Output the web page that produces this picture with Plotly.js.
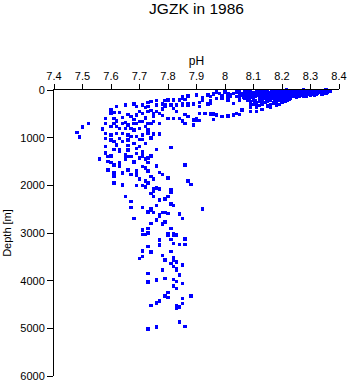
<!DOCTYPE html>
<html>
<head>
<meta charset="utf-8">
<script src="https://cdn.plot.ly/plotly-3.0.1.min.js"></script>
<style>html,body{margin:0;padding:0;background:#fff;}#chart{width:350px;height:384px;}.point{shape-rendering:crispEdges;}</style>
</head>
<body>
<div id="chart"></div>
<script>
// Samples: [pH, depth in m]
var surfaceSamples = [
[8.12,8],[8.15,12],[8.18,6],[8.20,10],[8.22,14],[8.24,5],[8.26,9],[8.28,12],[8.30,7],[8.32,11],[8.34,6],[8.36,10],[8.37,15],
[8.08,25],[8.11,22],[8.14,28],[8.17,24],[8.19,30],[8.21,21],[8.23,26],[8.25,29],[8.27,23],[8.29,27],[8.31,22],[8.33,28],[8.35,24],[8.37,30],
[8.05,42],[8.09,38],[8.12,44],[8.15,40],[8.18,36],[8.20,45],[8.23,41],[8.25,37],[8.28,43],[8.30,39],[8.32,46],[8.34,40],[8.36,44],
[8.04,58],[8.07,54],[8.10,60],[8.13,55],[8.16,52],[8.19,59],[8.22,56],[8.24,61],[8.26,53],[8.29,57],[8.31,62],[8.33,55],[8.35,58],
[8.06,72],[8.08,68],[8.11,75],[8.14,70],[8.17,66],[8.20,73],[8.22,77],[8.25,69],[8.27,74],[8.30,71],[8.32,67],
[8.05,88],[8.09,84],[8.12,90],[8.15,86],[8.18,82],[8.21,89],[8.23,85],[8.26,91],[8.28,83],[8.31,87],[8.34,80],
[8.06,102],[8.10,98],[8.13,105],[8.16,100],[8.19,96],[8.22,104],[8.24,99],[8.27,103],[8.29,97],[8.32,95],
[8.07,118],[8.11,113],[8.14,120],[8.17,115],[8.20,111],[8.23,119],[8.25,114],[8.28,117],[8.30,110],
[8.05,133],[8.08,128],[8.12,136],[8.15,131],[8.18,127],[8.21,134],[8.24,130],[8.26,126],
[8.09,152],[8.13,148],[8.16,155],[8.19,150],[8.22,146],[8.25,153],
[8.07,172],[8.10,168],[8.14,175],[8.17,170],[8.20,166],[8.23,173],
[8.08,192],[8.12,188],[8.15,195],[8.18,190],[8.21,186],
[8.10,215],[8.13,212],[8.16,218],[8.19,214],[8.22,210],
[8.09,240],[8.12,236],[8.15,243],[8.18,238],[8.21,245],
[8.11,270],[8.14,266],[8.17,273],[8.20,268],
[8.10,300],[8.13,296],[8.16,303],[8.19,310],
[8.12,330],[8.15,335],[8.18,328],
[8.11,362],[8.16,358],[8.13,405],[8.09,455],[8.11,450],[8.09,365],
[8.135,18],[8.165,16],[8.195,19],[8.215,3],[8.245,17],[8.275,2],[8.305,18],[8.335,17],[8.355,4],[8.365,35],
[8.095,48],[8.125,33],[8.155,63],[8.185,47],[8.215,33],[8.245,50],[8.275,35],[8.305,52],[8.335,34],[8.345,66],
[8.085,78],[8.115,93],[8.145,80],[8.175,94],[8.205,81],[8.235,95],[8.265,79],[8.295,92],[8.325,76],[8.355,72],
[8.075,108],[8.105,123],[8.135,110],[8.165,125],[8.195,108],[8.225,122],[8.255,107],[8.285,124],[8.315,104],
[8.065,145],[8.095,140],[8.145,160],[8.175,142],[8.205,158],[8.235,140],[8.275,138],
[8.085,180],[8.125,200],[8.165,182],[8.195,198],[8.225,190],[8.105,228],[8.145,230],[8.175,255],[8.205,228]
];
var transitionSamples = [
[7.85,140],[7.87,125],[7.90,105],[7.86,195],[7.85,315],[7.87,295],[7.89,295],[7.91,265],[7.92,225],[7.94,295],
[7.95,280],[7.95,225],[7.94,105],[7.96,85],[7.98,70],[7.97,175],[7.99,175],[8.01,70],[8.02,125],[8.03,70],
[8.04,140],[8.05,70],[8.07,35],[8.01,210],[8.03,280],[8.05,210],[8.08,210],[8.09,295],[8.11,350],[8.13,405],
[8.06,420],[8.09,455],[8.11,455],[8.04,490],[8.05,510],[8.01,545],[8.03,525],[7.99,560],[7.96,615],[7.93,490],
[7.95,505],[7.96,505],[7.97,525],[7.91,490],[7.89,630],[7.90,645],[7.91,645],[7.87,560],[7.86,700],[7.89,735],
[7.85,665],[8.00,40],[8.02,95],[8.04,25],[7.99,110],[8.01,150],[7.95,140],[7.97,40],[7.92,160]
];
var upperSamples = [
[7.90,120],[7.87,140],[7.85,175],[7.84,210],[7.82,210],[7.85,295],[7.80,210],[7.79,225],[7.79,315],[7.78,295],
[7.76,225],[7.76,315],[7.74,245],[7.73,265],[7.73,350],[7.72,365],[7.71,315],[7.69,350],[7.68,295],[7.65,315],
[7.62,350],[7.60,420],[7.60,490],[7.61,470],[7.58,595],[7.61,595],[7.63,470],[7.66,510],[7.67,560],[7.69,525],
[7.70,455],[7.71,490],[7.73,455],[7.74,435],[7.75,490],[7.76,455],[7.77,490],[7.78,385],[7.79,350],[7.81,315],
[7.82,385],[7.83,315],[7.87,315],[7.89,295],[7.91,350],[7.80,595],[7.82,595],[7.84,595],[7.85,645],[7.89,630],
[7.90,595],[7.89,735],[7.52,700],[7.50,780],[7.48,890],[7.49,990],[7.58,700],[7.61,700],[7.62,770],[7.64,700],
[7.65,685],[7.66,735],[7.68,700],[7.69,700],[7.70,665],[7.71,665],[7.73,700],[7.74,700],[7.75,665],[7.77,700],
[7.63,805],[7.65,805],[7.67,805],[7.68,840],[7.70,805],[7.72,770],[7.73,840],[7.75,920],[7.77,920],[7.58,910],
[7.60,945],[7.62,910],[7.64,910],[7.66,945],[7.67,980],[7.69,980],[7.71,945],[7.73,910],[7.70,1035],[7.72,1120],
[7.71,1035],[7.58,1015],[7.60,1050],[7.61,1085],[7.63,1015],[7.64,1085],[7.66,1050],[7.68,1120],[7.58,1185],[7.61,1245],
[7.63,1245],[7.66,1260],[7.69,1225],[7.71,1295],[7.76,1245],[7.81,1200],[7.56,1445],[7.59,1500],[7.60,1385],[7.63,1535],
[7.68,1500],[7.70,1430],[7.71,1365],[7.73,1430],[7.74,1400],[7.63,1295],[7.65,1365],[7.67,1400],[7.69,1330],[7.76,1595],
[7.86,1580],[7.64,580],[7.72,590],[7.75,560],[7.78,540],[7.68,620],[7.62,650],[7.57,820],[7.60,760],[7.74,1010],
[7.62,1150],[7.66,1160],[7.70,1190],[7.58,1320],[7.78,400],[7.83,450],[7.86,520]
];
var midSamples = [
[7.56,1455],[7.59,1400],[7.60,1515],[7.59,1675],[7.61,1570],[7.63,1535],[7.63,1610],[7.65,1445],[7.66,1400],[7.68,1515],
[7.70,1430],[7.71,1400],[7.72,1445],[7.73,1515],[7.74,1375],[7.61,1745],[7.61,1815],[7.64,1745],[7.66,1675],[7.67,1770],
[7.69,1700],[7.69,1780],[7.71,1610],[7.72,1640],[7.73,1700],[7.74,1815],[7.75,1865],[7.76,1610],[7.77,1725],[7.78,1770],
[7.80,1850],[7.70,1870],[7.72,1910],[7.73,1955],[7.69,2005],[7.71,2005],[7.72,2035],[7.64,1990],[7.61,1955],[7.75,2080],
[7.76,2060],[7.77,2080],[7.75,2130],[7.74,2170],[7.81,2095],[7.81,2145],[7.86,1570],[7.87,1910],[7.88,1980],[7.65,2230],
[7.67,2340],[7.67,2460],[7.71,2460],[7.75,2235],[7.77,2305],[7.79,2285],[7.80,2230],[7.81,2400],[7.82,2425],[7.76,2425]
];
var deepSamples = [
[7.67,2334],[7.71,2460],[7.76,2418],[7.77,2320],[7.81,2376],[7.82,2418],[7.92,2500],[7.68,2690],[7.73,2550],[7.74,2500],
[7.75,2565],[7.77,2620],[7.78,2565],[7.80,2585],[7.84,2600],[7.85,2690],[7.76,2725],[7.74,2795],[7.78,2810],[7.79,2775],
[7.73,2900],[7.73,2985],[7.71,2935],[7.71,3035],[7.72,3035],[7.81,2900],[7.80,3040],[7.82,3040],[7.83,3040],[7.81,3130],
[7.86,3125],[7.77,3150],[7.77,3255],[7.82,3220],[7.84,3235],[7.86,3235],[7.73,3285],[7.71,3380],[7.74,3400],[7.71,3495],
[7.70,3530],[7.78,3475],[7.81,3390],[7.82,3515],[7.82,3565],[7.79,3570],[7.83,3610],[7.81,3635],[7.82,3705],[7.83,3740],
[7.85,3675],[7.83,3790],[7.78,3775],[7.73,3855],[7.76,3985],[7.79,3960],[7.82,3970],[7.83,4015],[7.84,3885],[7.85,4065],
[7.82,4110],[7.83,4160],[7.73,4025],[7.80,4250],[7.79,4320],[7.80,4355],[7.85,4370],[7.88,4325],[7.77,4425],[7.76,4470],
[7.74,4520],[7.83,4530],[7.84,4555],[7.83,4590],[7.85,4485],[7.84,4870],[7.86,4960],[7.76,4975],[7.73,5015],
[7.74,2520],[7.75,2565],[7.73,2565],[7.78,2565],[7.79,2565],[7.80,2590],[7.77,2660],[7.76,2730],[7.79,2760],[7.78,2810],
[7.84,2590],[7.85,2690],[7.68,2690],[7.74,2795],[7.71,2935],[7.73,2900],[7.73,3005],[7.81,2900],[7.80,3025],[7.82,3025]
];

var xTicks = [7.4, 7.5, 7.6, 7.7, 7.8, 7.9, 8.0, 8.1, 8.2, 8.3, 8.4];
var xTickText = ['7.4','7.5','7.6','7.7','7.8','7.9','8','8.1','8.2','8.3','8.4'];
var yTicks = [0, 1000, 2000, 3000, 4000, 5000, 6000];
var yTickText = ['0','1000','2000','3000','4000','5000','6000'];

var all = surfaceSamples.concat(transitionSamples, upperSamples, midSamples, deepSamples);
var xs = all.map(function(p){return p[0];});
var ys = all.map(function(p){return p[1];});

var FONT = 'Liberation Sans, Arial, sans-serif';
var trace = {
  type: 'scatter', mode: 'markers', x: xs, y: ys,
  marker: {symbol: 'square', size: 3.4, color: '#0000ff', line: {width: 0}},
  hoverinfo: 'none', cliponaxis: false
};
var layout = {
  width: 350, height: 384,
  margin: {l: 54, r: 11, t: 90, b: 8, pad: 0},
  paper_bgcolor: '#fff', plot_bgcolor: '#fff',
  showlegend: false,
  font: {family: FONT, color: '#000', size: 11},
  title: {text: 'JGZK in 1986', x: 0.5, xref: 'paper', y: 0.977, yref: 'container', yanchor: 'middle', font: {family: FONT, size: 15.5, color: '#000'}},
  xaxis: {
    side: 'top', range: [7.4, 8.4], tickvals: xTicks, ticktext: xTickText,
    ticks: 'outside', ticklen: 5, tickwidth: 1, tickcolor: '#000',
    showline: true, linecolor: '#000', linewidth: 1, showgrid: false, zeroline: false,
    tickfont: {family: FONT, size: 11, color: '#000'},
    title: {text: 'pH', font: {family: FONT, size: 12, color: '#000'}, standoff: 1}
  },
  yaxis: {
    range: [6000, 0], tickvals: yTicks, ticktext: yTickText,
    ticks: 'outside', ticklen: 6, tickwidth: 1, tickcolor: '#000',
    showline: true, linecolor: '#000', linewidth: 1, showgrid: false, zeroline: false,
    tickfont: {family: FONT, size: 11, color: '#000'},
    title: {text: 'Depth [m]', font: {family: FONT, size: 11, color: '#000'}, standoff: 6}
  }
};
Plotly.newPlot('chart', [trace], layout, {staticPlot: true, displayModeBar: false});
</script>
</body>
</html>
